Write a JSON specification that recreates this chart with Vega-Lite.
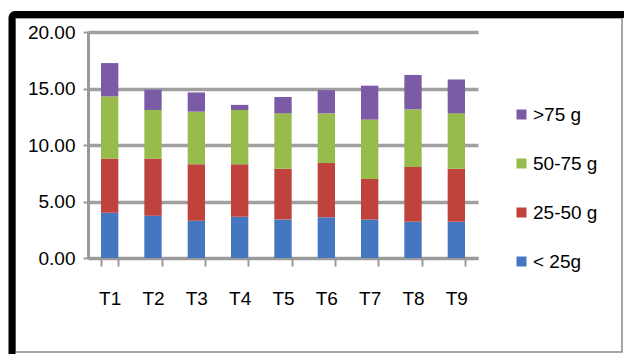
{
  "$schema": "https://vega.github.io/schema/vega-lite/v6.json",
  "autosize": "none",
  "width": 390,
  "height": 226,
  "padding": {"left": 88, "top": 32, "right": 146, "bottom": 96},
  "background": "white",
  "config": {
    "font": "Liberation Sans, Arial, sans-serif",
    "view": {"stroke": null}
  },
  "layer": [
    {
      "data": {"values": [{}]},
      "mark": {"type": "rect", "fill": null, "stroke": "#8a8a8a", "strokeWidth": 1.5, "clip": false},
      "encoding": {
        "x": {"value": -73},
        "x2": {"value": 534},
        "y": {"value": -14},
        "y2": {"value": 320}
      }
    },
    {
      "data": {"values": [{}]},
      "mark": {"type": "rect", "fill": null, "stroke": "black", "strokeWidth": 7, "clip": false, "cornerRadius": 3},
      "encoding": {
        "x": {"value": -76},
        "x2": {"value": 570},
        "y": {"value": -17.5},
        "y2": {"value": 370}
      }
    },
    {
      "data": {
        "values": [
          {"t": "T1", "cls": "< 25g", "rank": 1, "v": 4.0},
          {"t": "T1", "cls": "25-50 g", "rank": 2, "v": 4.8},
          {"t": "T1", "cls": "50-75 g", "rank": 3, "v": 5.5},
          {"t": "T1", "cls": ">75 g", "rank": 4, "v": 2.95},
          {"t": "T2", "cls": "< 25g", "rank": 1, "v": 3.75},
          {"t": "T2", "cls": "25-50 g", "rank": 2, "v": 5.05},
          {"t": "T2", "cls": "50-75 g", "rank": 3, "v": 4.3},
          {"t": "T2", "cls": ">75 g", "rank": 4, "v": 1.8},
          {"t": "T3", "cls": "< 25g", "rank": 1, "v": 3.3},
          {"t": "T3", "cls": "25-50 g", "rank": 2, "v": 5.0},
          {"t": "T3", "cls": "50-75 g", "rank": 3, "v": 4.65},
          {"t": "T3", "cls": ">75 g", "rank": 4, "v": 1.7},
          {"t": "T4", "cls": "< 25g", "rank": 1, "v": 3.65},
          {"t": "T4", "cls": "25-50 g", "rank": 2, "v": 4.65},
          {"t": "T4", "cls": "50-75 g", "rank": 3, "v": 4.8},
          {"t": "T4", "cls": ">75 g", "rank": 4, "v": 0.45},
          {"t": "T5", "cls": "< 25g", "rank": 1, "v": 3.4},
          {"t": "T5", "cls": "25-50 g", "rank": 2, "v": 4.5},
          {"t": "T5", "cls": "50-75 g", "rank": 3, "v": 4.9},
          {"t": "T5", "cls": ">75 g", "rank": 4, "v": 1.45},
          {"t": "T6", "cls": "< 25g", "rank": 1, "v": 3.6},
          {"t": "T6", "cls": "25-50 g", "rank": 2, "v": 4.8},
          {"t": "T6", "cls": "50-75 g", "rank": 3, "v": 4.4},
          {"t": "T6", "cls": ">75 g", "rank": 4, "v": 2.05},
          {"t": "T7", "cls": "< 25g", "rank": 1, "v": 3.4},
          {"t": "T7", "cls": "25-50 g", "rank": 2, "v": 3.6},
          {"t": "T7", "cls": "50-75 g", "rank": 3, "v": 5.25},
          {"t": "T7", "cls": ">75 g", "rank": 4, "v": 3.0},
          {"t": "T8", "cls": "< 25g", "rank": 1, "v": 3.2},
          {"t": "T8", "cls": "25-50 g", "rank": 2, "v": 4.85},
          {"t": "T8", "cls": "50-75 g", "rank": 3, "v": 5.1},
          {"t": "T8", "cls": ">75 g", "rank": 4, "v": 3.05},
          {"t": "T9", "cls": "< 25g", "rank": 1, "v": 3.2},
          {"t": "T9", "cls": "25-50 g", "rank": 2, "v": 4.7},
          {"t": "T9", "cls": "50-75 g", "rank": 3, "v": 4.9},
          {"t": "T9", "cls": ">75 g", "rank": 4, "v": 3.0}
        ]
      },
      "mark": {"type": "bar"},
      "encoding": {
        "x": {
          "field": "t",
          "type": "nominal",
          "scale": {"paddingInner": 0.6, "paddingOuter": 0.3},
          "axis": {
            "title": null,
            "labelAngle": 0,
            "labelFontSize": 19,
            "labelColor": "black",
            "labelPadding": 23,
            "tickBand": "extent",
            "tickSize": 8,
            "tickWidth": 2,
            "tickColor": "#9a9a9a",
            "domainColor": "#9a9a9a",
            "domainWidth": 3,
            "grid": false
          }
        },
        "y": {
          "field": "v",
          "type": "quantitative",
          "aggregate": "sum",
          "stack": "zero",
          "scale": {"domain": [0, 20], "nice": false},
          "axis": {
            "title": null,
            "values": [0, 5, 10, 15, 20],
            "format": ".2f",
            "labelFontSize": 19,
            "labelColor": "black",
            "labelPadding": 8,
            "tickSize": 5,
            "tickWidth": 2,
            "tickColor": "#9a9a9a",
            "domainColor": "#9a9a9a",
            "domainWidth": 3,
            "gridColor": "#a0a0a0",
            "gridWidth": 3.5,
            "gridOpacity": 1
          }
        },
        "color": {
          "field": "cls",
          "type": "nominal",
          "sort": [">75 g", "50-75 g", "25-50 g", "< 25g"],
          "scale": {
            "domain": [">75 g", "50-75 g", "25-50 g", "< 25g"],
            "range": ["#7B5BA6", "#97BC4B", "#C0423D", "#4477C0"]
          },
          "legend": {
            "title": null,
            "orient": "none",
            "legendX": 424,
            "legendY": 73,
            "symbolType": "square",
            "symbolSize": 100,
            "symbolStrokeWidth": 0,
            "labelFontSize": 19,
            "labelColor": "black",
            "labelOffset": 2,
            "rowPadding": 29
          }
        },
        "order": {"field": "rank", "type": "quantitative", "sort": "ascending"}
      }
    }
  ]
}
